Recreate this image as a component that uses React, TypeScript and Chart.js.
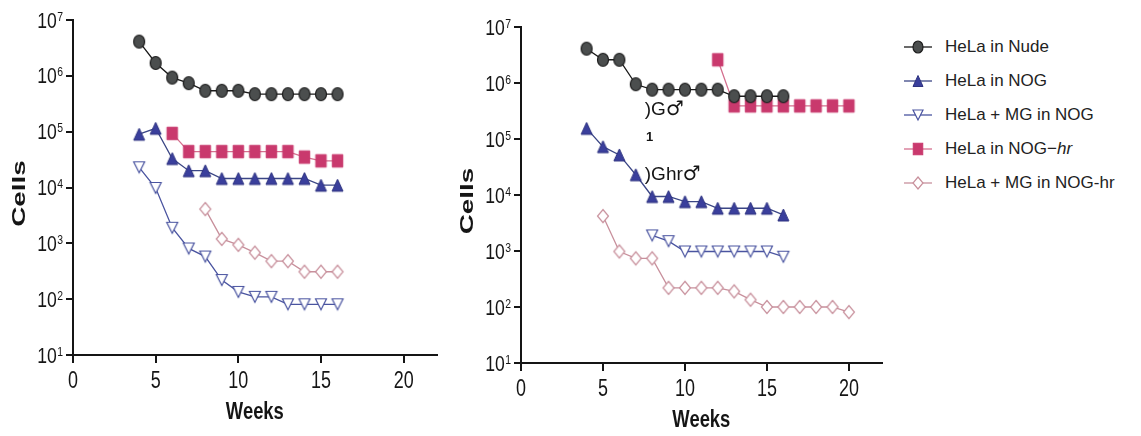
import React, { useEffect, useRef } from 'react';
import { Chart, registerables } from 'chart.js';
Chart.register(...registerables);

const SANS = "'Liberation Sans', Arial, 'Noto Sans', sans-serif";
const SYMBOL = "'DejaVu Sans', sans-serif";

const xTickValues = [0, 5, 10, 15, 20];
const xMin = 0;
const xMax = 22;
const yExponents = [1, 2, 3, 4, 5, 6, 7];

const seriesNames = ['HeLa in Nude', 'HeLa in NOG', 'HeLa + MG in NOG', 'HeLa in NOG−', 'HeLa + MG in NOG-hr'];
const seriesItalicSuffix = ['', '', '', 'hr', ''];

// ---- Left panel ----
const leftNudeWeeks = [4, 5, 6, 7, 8, 9, 10, 11, 12, 13, 14, 15, 16];
const leftNudeCells = [4.1e6, 1.7e6, 9.3e5, 7.4e5, 5.4e5, 5.4e5, 5.4e5, 4.7e5, 4.7e5, 4.7e5, 4.7e5, 4.7e5, 4.7e5];
const leftNogWeeks = [4, 5, 6, 7, 8, 9, 10, 11, 12, 13, 14, 15, 16];
const leftNogCells = [9e4, 1.15e5, 3.3e4, 2.0e4, 2.0e4, 1.45e4, 1.45e4, 1.45e4, 1.45e4, 1.45e4, 1.45e4, 1.1e4, 1.1e4];
const leftMgNogWeeks = [4, 5, 6, 7, 8, 9, 10, 11, 12, 13, 14, 15, 16];
const leftMgNogCells = [2.3e4, 9.8e3, 1.9e3, 8.1e2, 5.8e2, 2.2e2, 1.35e2, 1.1e2, 1.1e2, 81, 81, 81, 81];
const leftNogHrWeeks = [6, 7, 8, 9, 10, 11, 12, 13, 14, 15, 16];
const leftNogHrCells = [9.3e4, 4.4e4, 4.4e4, 4.4e4, 4.4e4, 4.4e4, 4.4e4, 4.4e4, 3.5e4, 3.0e4, 3.0e4];
const leftMgNogHrWeeks = [8, 9, 10, 11, 12, 13, 14, 15, 16];
const leftMgNogHrCells = [4.1e3, 1.2e3, 9.4e2, 6.8e2, 4.8e2, 4.8e2, 3.1e2, 3.1e2, 3.1e2];

// ---- Right panel ----
const rightNudeWeeks = [4, 5, 6, 7, 8, 9, 10, 11, 12, 13, 14, 15, 16];
const rightNudeCells = [4.1e6, 2.6e6, 2.6e6, 9.5e5, 7.6e5, 7.6e5, 7.6e5, 7.6e5, 7.6e5, 5.8e5, 5.8e5, 5.8e5, 5.8e5];
const rightNogWeeks = [4, 5, 6, 7, 8, 9, 10, 11, 12, 13, 14, 15, 16];
const rightNogCells = [1.55e5, 7.3e4, 5.2e4, 2.3e4, 9.4e3, 9.4e3, 7.6e3, 7.6e3, 5.8e3, 5.8e3, 5.8e3, 5.8e3, 4.4e3];
const rightMgNogWeeks = [8, 9, 10, 11, 12, 13, 14, 15, 16];
const rightMgNogCells = [1.9e3, 1.5e3, 9.8e2, 9.8e2, 9.8e2, 9.8e2, 9.8e2, 9.8e2, 7.9e2];
const rightNogHrWeeks = [12, 13, 14, 15, 16, 17, 18, 19, 20];
const rightNogHrCells = [2.6e6, 3.9e5, 3.9e5, 3.9e5, 3.9e5, 3.9e5, 3.9e5, 3.9e5, 3.9e5];
const rightMgNogHrWeeks = [5, 6, 7, 8, 9, 10, 11, 12, 13, 14, 15, 16, 17, 18, 19, 20];
const rightMgNogHrCells = [4.2e3, 9.8e2, 7.4e2, 7.4e2, 2.2e2, 2.2e2, 2.2e2, 2.2e2, 1.9e2, 1.35e2, 1.0e2, 1.0e2, 1.0e2, 1.0e2, 1.0e2, 81];

// stray overlapping text visible in the right panel
const annoTexts = [')G♂', '1', ')Ghr♂'];
const annoWeeks = [7.55, 7.62, 7.55];
const annoCells = [3.3e5, 1.05e5, 2.3e4];

type Kind = 'circle' | 'up' | 'down' | 'square' | 'diamond';
const styles: { kind: Kind; w: number; h: number; bg: string; border: string; line: string; lw: number }[] = [
  { kind: 'circle', w: 11, h: 13, bg: '#4b4e4e', border: '#1d1d1d', line: '#1a1a1a', lw: 1.2 },
  { kind: 'up', w: 11, h: 12, bg: '#3a3f9c', border: '#2e3380', line: '#3b4685', lw: 1 },
  { kind: 'down', w: 11, h: 11, bg: '#ffffff', border: '#4a54a0', line: '#4a54a0', lw: 1.2 },
  { kind: 'square', w: 10.5, h: 12.5, bg: '#c9396d', border: '#c9396d', line: '#d4708f', lw: 1 },
  { kind: 'diamond', w: 11, h: 13, bg: '#ffffff', border: '#c8909c', line: '#c8909c', lw: 1.2 },
];

function makeMarker(i: number): HTMLCanvasElement {
  const s = styles[i];
  const c = document.createElement('canvas');
  c.width = Math.ceil(s.w + s.lw * 2 + 2);
  c.height = Math.ceil(s.h + s.lw * 2 + 2);
  const ctx = c.getContext('2d')!;
  const cx = c.width / 2, cy = c.height / 2, hw = s.w / 2, hh = s.h / 2;
  ctx.beginPath();
  if (s.kind === 'circle') ctx.ellipse(cx, cy, hw, hh, 0, 0, Math.PI * 2);
  else if (s.kind === 'up') { ctx.moveTo(cx, cy - hh); ctx.lineTo(cx + hw, cy + hh); ctx.lineTo(cx - hw, cy + hh); ctx.closePath(); }
  else if (s.kind === 'down') { ctx.moveTo(cx, cy + hh); ctx.lineTo(cx + hw, cy - hh); ctx.lineTo(cx - hw, cy - hh); ctx.closePath(); }
  else if (s.kind === 'square') ctx.rect(cx - hw, cy - hh, s.w, s.h);
  else { ctx.moveTo(cx, cy - hh); ctx.lineTo(cx + hw, cy); ctx.lineTo(cx, cy + hh); ctx.lineTo(cx - hw, cy); ctx.closePath(); }
  ctx.fillStyle = s.bg;
  ctx.fill();
  ctx.lineWidth = s.lw;
  ctx.strokeStyle = s.border;
  ctx.stroke();
  return c;
}

const toPts = (w: number[], c: number[]) => w.map((x, i) => ({ x, y: c[i] }));

function makeDatasets(series: [number[], number[]][], markers: HTMLCanvasElement[]) {
  return series.map(([w, c], i) => {
    const s = styles[i];
    return {
      label: seriesNames[i],
      data: toPts(w, c),
      borderColor: s.line,
      borderWidth: 1.3,
      pointStyle: markers[i] as any,
      pointRadius: 7,
      showLine: true,
      fill: false,
      tension: 0,
    };
  });
}

function scaledText(ctx: CanvasRenderingContext2D, text: string, x: number, y: number, sx: number, sy: number) {
  ctx.save();
  ctx.translate(x, y);
  ctx.scale(sx, sy);
  ctx.fillText(text, 0, 0);
  ctx.restore();
}

const decorPlugin = {
  id: 'decor',
  afterDraw(chart: any, _args: any, opts: any) {
    const { ctx, chartArea, scales } = chart;
    const y = scales.y;
    const x = scales.x;
    ctx.save();
    ctx.fillStyle = '#151515';
    // y tick labels: "10" with superscript exponent (narrow face)
    for (const e of yExponents) {
      const py = y.getPixelForValue(Math.pow(10, e));
      const right = chartArea.left - 10;
      ctx.font = `13px ${SANS}`;
      const ew = ctx.measureText(String(e)).width * 0.8;
      ctx.textAlign = 'right';
      ctx.textBaseline = 'alphabetic';
      scaledText(ctx, String(e), right, py + 0.5, 0.8, 1);
      ctx.font = `22px ${SANS}`;
      ctx.textBaseline = 'middle';
      scaledText(ctx, '10', right - ew - 0.5, py + 1.5, 0.8, 1);
    }
    // x tick labels
    ctx.font = `23px ${SANS}`;
    ctx.textAlign = 'center';
    ctx.textBaseline = 'middle';
    for (const v of xTickValues) {
      scaledText(ctx, String(v), x.getPixelForValue(v), chartArea.bottom + 27, 0.78, 1);
    }
    // x title
    ctx.font = `bold 23px ${SANS}`;
    ctx.textAlign = 'center';
    ctx.textBaseline = 'middle';
    scaledText(ctx, 'Weeks', (chartArea.left + chartArea.right) / 2, chartArea.bottom + 58, 0.8, 1);
    // y title (wide face)
    ctx.save();
    ctx.translate(chartArea.left - 53, (chartArea.top + chartArea.bottom) / 2 + 6);
    ctx.rotate(-Math.PI / 2);
    ctx.font = `bold 18px ${SANS}`;
    ctx.textAlign = 'center';
    ctx.textBaseline = 'middle';
    scaledText(ctx, 'Cells', 0, 0, 1.55, 1);
    ctx.restore();
    // annotations
    if (opts && opts.annotate) {
      ctx.textAlign = 'left';
      ctx.textBaseline = 'middle';
      annoTexts.forEach((t, i) => {
        let px = x.getPixelForValue(annoWeeks[i]);
        const py = y.getPixelForValue(annoCells[i]);
        for (const ch of Array.from(t)) {
          if (ch === '♂') ctx.font = `20px ${SYMBOL}`;
          else if (t === '1') ctx.font = `bold 13px ${SANS}`;
          else ctx.font = `19px ${SANS}`;
          ctx.fillText(ch, px, py);
          px += ctx.measureText(ch).width;
        }
      });
    }
    ctx.restore();
  },
};

function ChartPanel(props: { series: [number[], number[]][]; left: number; padTop: number; axisW: number; axisH: number; annotate: boolean }) {
  const ref = useRef<HTMLCanvasElement>(null);
  useEffect(() => {
    if (!ref.current) return;
    const markers = styles.map((_, i) => makeMarker(i));
    const chart = new Chart(ref.current, {
      type: 'scatter',
      data: { datasets: makeDatasets(props.series, markers) as any },
      plugins: [decorPlugin],
      options: {
        responsive: false,
        animation: false,
        layout: { padding: { top: props.padTop, right: 8, left: 0, bottom: 0 } },
        plugins: {
          legend: { display: false },
          tooltip: { enabled: false },
          decor: { annotate: props.annotate },
        } as any,
        scales: {
          x: {
            type: 'linear',
            min: xMin,
            max: xMax,
            afterFit: (s: any) => { s.height = props.axisH; },
            afterBuildTicks: (s: any) => { s.ticks = xTickValues.map((v) => ({ value: v })); },
            border: { display: true, color: '#151515', width: 2 },
            grid: { drawOnChartArea: false, color: '#151515', lineWidth: 2, tickLength: 8 },
            ticks: { display: false },
          },
          y: {
            type: 'logarithmic',
            min: Math.pow(10, yExponents[0]),
            max: Math.pow(10, yExponents[yExponents.length - 1]),
            afterFit: (s: any) => { s.width = props.axisW; },
            afterBuildTicks: (s: any) => { s.ticks = yExponents.map((e) => ({ value: Math.pow(10, e) })); },
            border: { display: true, color: '#151515', width: 2 },
            grid: { drawOnChartArea: false, color: '#151515', lineWidth: 2, tickLength: 7 },
            ticks: { display: false },
          },
        } as any,
      },
    });
    return () => chart.destroy();
  }, []);
  return (
    <canvas
      ref={ref}
      width={445}
      height={436}
      style={{ position: 'absolute', left: props.left, top: 0, width: 445, height: 436, display: 'block' }}
    />
  );
}

function LegendMarker({ i }: { i: number }) {
  const s = styles[i];
  const cx = 14, cy = 10;
  const hw = s.w / 2 - 0.5, hh = s.h / 2 - 0.5;
  let shape: React.ReactNode = null;
  if (s.kind === 'circle') shape = <ellipse cx={cx} cy={cy} rx={hw} ry={hh} fill={s.bg} stroke={s.border} strokeWidth={s.lw} />;
  else if (s.kind === 'up') shape = <polygon points={`${cx},${cy - hh} ${cx - hw},${cy + hh} ${cx + hw},${cy + hh}`} fill={s.bg} stroke={s.border} strokeWidth={s.lw} />;
  else if (s.kind === 'down') shape = <polygon points={`${cx},${cy + hh} ${cx - hw},${cy - hh} ${cx + hw},${cy - hh}`} fill={s.bg} stroke={s.border} strokeWidth={s.lw} />;
  else if (s.kind === 'square') shape = <rect x={cx - hw} y={cy - hh} width={hw * 2} height={hh * 2} fill={s.bg} stroke={s.border} strokeWidth={s.lw} />;
  else shape = <polygon points={`${cx},${cy - hh} ${cx + hw},${cy} ${cx},${cy + hh} ${cx - hw},${cy}`} fill={s.bg} stroke={s.border} strokeWidth={s.lw} />;
  return (
    <svg width={28} height={20} style={{ display: 'block' }}>
      <line x1={0} y1={cy} x2={28} y2={cy} stroke={s.line} strokeWidth={1.3} />
      {shape}
    </svg>
  );
}

export default function App() {
  const leftSeries: [number[], number[]][] = [
    [leftNudeWeeks, leftNudeCells],
    [leftNogWeeks, leftNogCells],
    [leftMgNogWeeks, leftMgNogCells],
    [leftNogHrWeeks, leftNogHrCells],
    [leftMgNogHrWeeks, leftMgNogHrCells],
  ];
  const rightSeries: [number[], number[]][] = [
    [rightNudeWeeks, rightNudeCells],
    [rightNogWeeks, rightNogCells],
    [rightMgNogWeeks, rightMgNogCells],
    [rightNogHrWeeks, rightNogHrCells],
    [rightMgNogHrWeeks, rightMgNogHrCells],
  ];
  return (
    <div style={{ position: 'absolute', left: 0, top: 0, width: 1141, height: 436, background: '#fff', overflow: 'hidden' }}>
      <ChartPanel series={leftSeries} left={0} padTop={20} axisW={73} axisH={81} annotate={false} />
      <ChartPanel series={rightSeries} left={445} padTop={27} axisW={76} axisH={73} annotate={true} />
      <div style={{ position: 'absolute', left: 904, top: 30, fontFamily: SANS, fontSize: 17, color: '#222' }}>
        {seriesNames.map((n, i) => (
          <div key={i} style={{ display: 'flex', alignItems: 'center', height: 34 }}>
            <LegendMarker i={i} />
            <span style={{ marginLeft: 13, whiteSpace: 'nowrap' }}>
              {n}
              {seriesItalicSuffix[i] ? <i>{seriesItalicSuffix[i]}</i> : null}
            </span>
          </div>
        ))}
      </div>
    </div>
  );
}
